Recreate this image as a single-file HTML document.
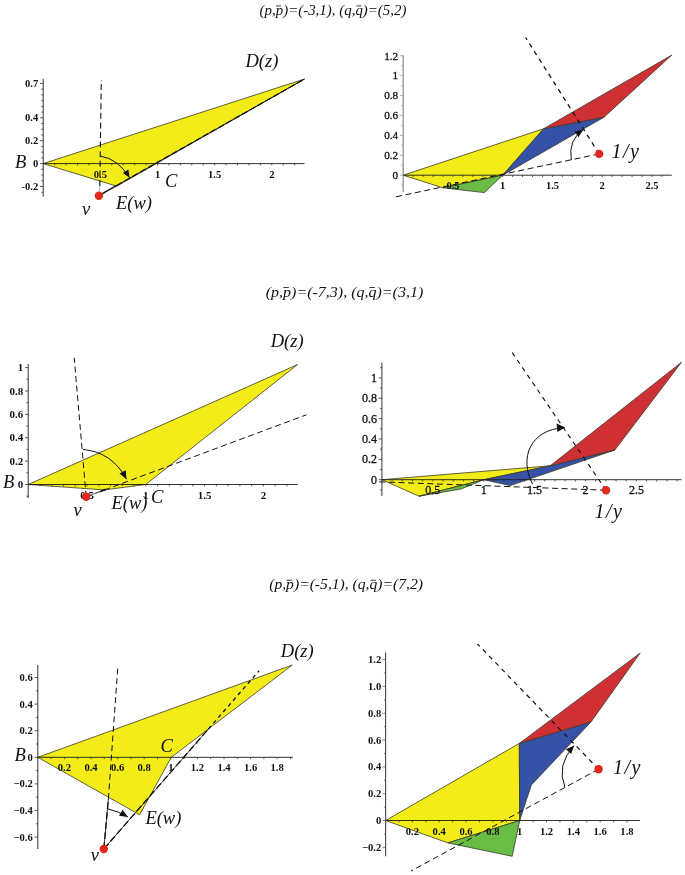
<!DOCTYPE html>
<html><head><meta charset="utf-8"><title>figure</title>
<style>html,body{margin:0;padding:0;background:#fff}svg{display:block}</style></head>
<body><svg width="685" height="875" viewBox="0 0 685 875">
<rect width="685" height="875" fill="#fff"/>
<g transform="translate(259.6,14.6) scale(1.0498,1)" font-family="'Liberation Serif',serif" font-style="italic" font-size="14.22" fill="#111">
<text x="0" y="0">(p,p)=(-3,1), (q,q)=(5,2)</text>
<path d="M15.68 -8.67h4.83M92.19 -8.67h4.83" stroke="#111" stroke-width="0.8" fill="none"/>
</g>
<g transform="translate(265.8,296.8) scale(1.0502,1)" font-family="'Liberation Serif',serif" font-style="italic" font-size="15.23" fill="#111">
<text x="0" y="0">(p,p)=(-7,3), (q,q)=(3,1)</text>
<path d="M16.80 -9.29h5.18M98.74 -9.29h5.18" stroke="#111" stroke-width="0.8" fill="none"/>
</g>
<g transform="translate(269.2,589.3) scale(1.0503,1)" font-family="'Liberation Serif',serif" font-style="italic" font-size="14.89" fill="#111">
<text x="0" y="0">(p,p)=(-5,1), (q,q)=(7,2)</text>
<path d="M16.42 -9.08h5.06M96.53 -9.08h5.06" stroke="#111" stroke-width="0.8" fill="none"/>
</g>
<polygon points="43.2,163.6 304.5,79.0 116.8,186.2" fill="#f3ec19" stroke="#3a3a2a" stroke-width="0.8" stroke-linejoin="round"/>
<line x1="43.2" y1="79" x2="43.2" y2="196.6" stroke="#1c1c1c" stroke-width="0.9"/>
<line x1="43.2" y1="163.6" x2="304.5" y2="163.6" stroke="#1c1c1c" stroke-width="0.9"/>
<path d="M41.40 192.22H43.20M40.00 186.50H43.20M41.40 180.78H43.20M41.40 175.05H43.20M41.40 169.32H43.20M40.00 163.60H43.20M41.40 157.88H43.20M41.40 152.15H43.20M41.40 146.42H43.20M40.00 140.70H43.20M41.40 134.97H43.20M41.40 129.25H43.20M41.40 123.53H43.20M40.00 117.80H43.20M41.40 112.07H43.20M41.40 106.35H43.20M41.40 100.62H43.20M41.40 94.90H43.20M41.40 89.17H43.20M40.00 83.45H43.20" stroke="#2a2a2a" stroke-width="0.75" fill="none"/>
<path d="M54.63 163.60v1.8M66.06 163.60v1.8M77.49 163.60v1.8M88.92 163.60v1.8M100.35 163.60v1.8M111.78 163.60v1.8M123.21 163.60v1.8M134.64 163.60v1.8M146.07 163.60v1.8M157.50 163.60v1.8M168.93 163.60v1.8M180.36 163.60v1.8M191.79 163.60v1.8M203.22 163.60v1.8M214.65 163.60v1.8M226.08 163.60v1.8M237.51 163.60v1.8M248.94 163.60v1.8M260.37 163.60v1.8M271.80 163.60v1.8M283.23 163.60v1.8M294.66 163.60v1.8" stroke="#2a2a2a" stroke-width="0.75" fill="none"/>
<g font-family="'Liberation Serif',serif" font-size="10.5" font-weight="bold" fill="#111">
<text x="38.20" y="86.92" text-anchor="end">0.7</text>
<text x="38.20" y="121.26" text-anchor="end">0.4</text>
<text x="38.20" y="144.16" text-anchor="end">0.2</text>
<text x="38.20" y="167.06" text-anchor="end">0</text>
<text x="38.20" y="189.97" text-anchor="end">-0.2</text>
</g>
<g font-family="'Liberation Serif',serif" font-size="10.5" font-weight="bold" fill="#111">
<text x="100.35" y="177.60" text-anchor="middle">0.5</text>
<text x="157.50" y="177.60" text-anchor="middle">1</text>
<text x="214.65" y="177.60" text-anchor="middle">1.5</text>
<text x="271.80" y="177.60" text-anchor="middle">2</text>
</g>
<line x1="98.9" y1="195.6" x2="116.8" y2="185.4" stroke="#111" stroke-width="1.6"/>
<line x1="116.8" y1="185.4" x2="304.5" y2="79" stroke="#111" stroke-width="0.9"/>
<line x1="116.8" y1="185.4" x2="304.5" y2="79" stroke="#111" stroke-width="1.2" stroke-dasharray="6 3"/>
<line x1="99.4" y1="195" x2="99.8" y2="186" stroke="#bbb" stroke-width="1"/>
<line x1="99.8" y1="186" x2="101.3" y2="80" stroke="#111" stroke-width="1.1" stroke-dasharray="6 3.6"/>
<path d="M100.7 156.1Q118 159 129.6 177.7" stroke="#111" stroke-width="1" fill="none"/>
<polygon points="129.6,177.7 122.9,173.0 128.4,169.6" fill="#111"/>
<circle cx="98.9" cy="195.8" r="4.2" fill="#e0281e"/>
<text x="15" y="168.4" font-family="'Liberation Serif',serif" font-style="italic" font-size="18.5" letter-spacing="0" fill="#111">B</text>
<text x="245.5" y="66.5" font-family="'Liberation Serif',serif" font-style="italic" font-size="18.5" letter-spacing="0" fill="#111">D(z)</text>
<text x="165" y="187" font-family="'Liberation Serif',serif" font-style="italic" font-size="18.5" letter-spacing="0" fill="#111">C</text>
<text x="116" y="209" font-family="'Liberation Serif',serif" font-style="italic" font-size="18.5" letter-spacing="0" fill="#111">E(w)</text>
<text x="82" y="215" font-family="'Liberation Serif',serif" font-style="italic" font-size="18.5" letter-spacing="0" fill="#111">v</text>
<polygon points="403.2,175.2 543.7,128.7 502.7,175.2 442.9,187.8" fill="#f3ec19" stroke="#3a3a2a" stroke-width="0.8" stroke-linejoin="round"/>
<polygon points="442.9,187.8 502.7,175.2 484.3,192.6" fill="#69bd45" stroke="#3a3a2a" stroke-width="0.8" stroke-linejoin="round"/>
<polygon points="502.7,175.2 543.7,128.7 604.0,117.2" fill="#3552a6" stroke="#3a3a2a" stroke-width="0.8" stroke-linejoin="round"/>
<polygon points="543.7,128.7 671.8,55.1 604.0,117.2" fill="#cf3034" stroke="#3a3a2a" stroke-width="0.8" stroke-linejoin="round"/>
<line x1="403.2" y1="55.2" x2="403.2" y2="192" stroke="#999" stroke-width="1.4"/>
<line x1="403.2" y1="175.2" x2="671.8" y2="175.2" stroke="#1c1c1c" stroke-width="0.9"/>
<path d="M401.40 185.15H403.20M400.00 175.20H403.20M401.40 165.25H403.20M400.00 155.30H403.20M401.40 145.35H403.20M400.00 135.40H403.20M401.40 125.45H403.20M400.00 115.50H403.20M401.40 105.55H403.20M400.00 95.60H403.20M401.40 85.65H403.20M400.00 75.70H403.20M401.40 65.75H403.20M400.00 55.80H403.20" stroke="#999" stroke-width="0.75" fill="none"/>
<path d="M413.15 175.20v1.8M423.10 175.20v1.8M433.05 175.20v1.8M443.00 175.20v1.8M452.95 175.20v1.8M462.90 175.20v1.8M472.85 175.20v1.8M482.80 175.20v1.8M492.75 175.20v1.8M502.70 175.20v1.8M512.65 175.20v1.8M522.60 175.20v1.8M532.55 175.20v1.8M542.50 175.20v1.8M552.45 175.20v1.8M562.40 175.20v1.8M572.35 175.20v1.8M582.30 175.20v1.8M592.25 175.20v1.8M602.20 175.20v1.8M612.15 175.20v1.8M622.10 175.20v1.8M632.05 175.20v1.8M642.00 175.20v1.8M651.95 175.20v1.8M661.90 175.20v1.8" stroke="#2a2a2a" stroke-width="0.75" fill="none"/>
<g font-family="'Liberation Serif',serif" font-size="11.2" font-weight="normal" fill="#111" stroke="#111" stroke-width="0.3">
<text x="398.20" y="59.50" text-anchor="end">1.2</text>
<text x="398.20" y="79.40" text-anchor="end">1</text>
<text x="398.20" y="99.30" text-anchor="end">0.8</text>
<text x="398.20" y="119.20" text-anchor="end">0.6</text>
<text x="398.20" y="139.10" text-anchor="end">0.4</text>
<text x="398.20" y="159.00" text-anchor="end">0.2</text>
<text x="398.20" y="178.90" text-anchor="end">0</text>
</g>
<g font-family="'Liberation Serif',serif" font-size="10.5" font-weight="bold" fill="#111">
<text x="452.95" y="189.20" text-anchor="middle">0.5</text>
<text x="502.70" y="189.20" text-anchor="middle">1</text>
<text x="552.45" y="189.20" text-anchor="middle">1.5</text>
<text x="602.20" y="189.20" text-anchor="middle">2</text>
<text x="651.95" y="189.20" text-anchor="middle">2.5</text>
</g>
<line x1="599.2" y1="153.9" x2="395" y2="197" stroke="#111" stroke-width="1.0" stroke-dasharray="6 3.6"/>
<line x1="599.2" y1="153.9" x2="525.6" y2="37.5" stroke="#111" stroke-width="1.3" stroke-dasharray="4.6 4.4"/>
<path d="M571.3 160Q568 140 583.2 129.8" stroke="#111" stroke-width="1" fill="none"/>
<polygon points="583.2,129.8 578.5,137.2 574.6,131.4" fill="#111"/>
<circle cx="599.2" cy="153.9" r="4.2" fill="#e0281e"/>
<text x="611.5" y="158" font-family="'Liberation Serif',serif" font-style="italic" font-size="20" letter-spacing="1.5" fill="#111">1/y</text>
<polygon points="28.2,484.5 297.6,364.5 145.7,484.5 104.2,489.9" fill="#f3ec19" stroke="#3a3a2a" stroke-width="0.8" stroke-linejoin="round"/>
<line x1="28.2" y1="364" x2="28.2" y2="498" stroke="#1c1c1c" stroke-width="0.9"/>
<line x1="28.2" y1="484.5" x2="297.6" y2="484.5" stroke="#1c1c1c" stroke-width="0.9"/>
<path d="M26.40 496.19H28.20M25.00 484.50H28.20M26.40 472.81H28.20M25.00 461.12H28.20M26.40 449.43H28.20M25.00 437.74H28.20M26.40 426.05H28.20M25.00 414.36H28.20M26.40 402.67H28.20M25.00 390.98H28.20M26.40 379.29H28.20M25.00 367.60H28.20" stroke="#2a2a2a" stroke-width="0.75" fill="none"/>
<path d="M39.96 484.50v1.8M51.72 484.50v1.8M63.48 484.50v1.8M75.24 484.50v1.8M87.00 484.50v1.8M98.76 484.50v1.8M110.52 484.50v1.8M122.28 484.50v1.8M134.04 484.50v1.8M145.80 484.50v1.8M157.56 484.50v1.8M169.32 484.50v1.8M181.08 484.50v1.8M192.84 484.50v1.8M204.60 484.50v1.8M216.36 484.50v1.8M228.12 484.50v1.8M239.88 484.50v1.8M251.64 484.50v1.8M263.40 484.50v1.8M275.16 484.50v1.8M286.92 484.50v1.8" stroke="#2a2a2a" stroke-width="0.75" fill="none"/>
<g font-family="'Liberation Serif',serif" font-size="11" font-weight="bold" fill="#111">
<text x="23.20" y="371.23" text-anchor="end">1</text>
<text x="23.20" y="394.61" text-anchor="end">0.8</text>
<text x="23.20" y="417.99" text-anchor="end">0.6</text>
<text x="23.20" y="441.37" text-anchor="end">0.4</text>
<text x="23.20" y="464.75" text-anchor="end">0.2</text>
<text x="23.20" y="488.13" text-anchor="end">0</text>
</g>
<g font-family="'Liberation Serif',serif" font-size="11" font-weight="bold" fill="#111">
<text x="87.00" y="498.50" text-anchor="middle">0.5</text>
<text x="145.80" y="498.50" text-anchor="middle">1</text>
<text x="204.60" y="498.50" text-anchor="middle">1.5</text>
<text x="263.40" y="498.50" text-anchor="middle">2</text>
</g>
<line x1="86.2" y1="496.8" x2="74.2" y2="357.7" stroke="#111" stroke-width="1.0" stroke-dasharray="6 3.6"/>
<line x1="86.2" y1="496.8" x2="306.4" y2="414.8" stroke="#111" stroke-width="1.0" stroke-dasharray="6 3.6"/>
<line x1="91" y1="495" x2="100.5" y2="491.4" stroke="#777" stroke-width="1"/>
<line x1="100.5" y1="491.4" x2="106" y2="489.3" stroke="#111" stroke-width="1.8"/>
<path d="M83 449.5Q112 452 126.5 479.2" stroke="#111" stroke-width="1" fill="none"/>
<polygon points="126.5,479.2 119.5,473.5 125.7,470.2" fill="#111"/>
<circle cx="86.2" cy="496.8" r="4.2" fill="#e0281e"/>
<text x="3" y="488" font-family="'Liberation Serif',serif" font-style="italic" font-size="18.5" letter-spacing="0" fill="#111">B</text>
<text x="270.7" y="347" font-family="'Liberation Serif',serif" font-style="italic" font-size="18.5" letter-spacing="0" fill="#111">D(z)</text>
<text x="151" y="503" font-family="'Liberation Serif',serif" font-style="italic" font-size="18.5" letter-spacing="0" fill="#111">C</text>
<text x="111.5" y="509" font-family="'Liberation Serif',serif" font-style="italic" font-size="18.5" letter-spacing="0" fill="#111">E(w)</text>
<text x="73.5" y="515.5" font-family="'Liberation Serif',serif" font-style="italic" font-size="18.5" letter-spacing="0" fill="#111">v</text>
<polygon points="381.9,479.7 550.2,465.8 483.7,479.7 419.0,496.2" fill="#f3ec19" stroke="#3a3a2a" stroke-width="0.8" stroke-linejoin="round"/>
<polygon points="419.0,496.2 483.7,479.7 461.0,489.0" fill="#69bd45" stroke="#3a3a2a" stroke-width="0.8" stroke-linejoin="round"/>
<polygon points="483.7,479.7 550.2,465.8 614.8,450.0 510.2,485.6" fill="#3552a6" stroke="#3a3a2a" stroke-width="0.8" stroke-linejoin="round"/>
<polygon points="550.2,465.8 681.5,362.2 614.8,450.0" fill="#cf3034" stroke="#3a3a2a" stroke-width="0.8" stroke-linejoin="round"/>
<line x1="381.9" y1="362.7" x2="381.9" y2="496" stroke="#1c1c1c" stroke-width="0.9"/>
<line x1="381.9" y1="479.7" x2="681.5" y2="479.7" stroke="#1c1c1c" stroke-width="0.9"/>
<path d="M380.10 489.88H381.90M378.70 479.70H381.90M380.10 469.52H381.90M378.70 459.34H381.90M380.10 449.16H381.90M378.70 438.98H381.90M380.10 428.80H381.90M378.70 418.62H381.90M380.10 408.44H381.90M378.70 398.26H381.90M380.10 388.08H381.90M378.70 377.90H381.90M380.10 367.72H381.90" stroke="#2a2a2a" stroke-width="0.75" fill="none"/>
<path d="M392.08 479.70v1.8M402.26 479.70v1.8M412.44 479.70v1.8M422.62 479.70v1.8M432.80 479.70v1.8M442.98 479.70v1.8M453.16 479.70v1.8M463.34 479.70v1.8M473.52 479.70v1.8M483.70 479.70v1.8M493.88 479.70v1.8M504.06 479.70v1.8M514.24 479.70v1.8M524.42 479.70v1.8M534.60 479.70v1.8M544.78 479.70v1.8M554.96 479.70v1.8M565.14 479.70v1.8M575.32 479.70v1.8M585.50 479.70v1.8M595.68 479.70v1.8M605.86 479.70v1.8M616.04 479.70v1.8M626.22 479.70v1.8M636.40 479.70v1.8M646.58 479.70v1.8M656.76 479.70v1.8M666.94 479.70v1.8M677.12 479.70v1.8" stroke="#2a2a2a" stroke-width="0.75" fill="none"/>
<g font-family="'Liberation Serif',serif" font-size="12" font-weight="normal" fill="#111" stroke="#111" stroke-width="0.3">
<text x="376.90" y="381.86" text-anchor="end">1</text>
<text x="376.90" y="402.22" text-anchor="end">0.8</text>
<text x="376.90" y="422.58" text-anchor="end">0.6</text>
<text x="376.90" y="442.94" text-anchor="end">0.4</text>
<text x="376.90" y="463.30" text-anchor="end">0.2</text>
<text x="376.90" y="483.66" text-anchor="end">0</text>
</g>
<g font-family="'Liberation Serif',serif" font-size="12" font-weight="normal" fill="#111" stroke="#111" stroke-width="0.3">
<text x="432.80" y="493.70" text-anchor="middle">0.5</text>
<text x="483.70" y="493.70" text-anchor="middle">1</text>
<text x="534.60" y="493.70" text-anchor="middle">1.5</text>
<text x="585.50" y="493.70" text-anchor="middle">2</text>
<text x="636.40" y="493.70" text-anchor="middle">2.5</text>
</g>
<line x1="606" y1="490.2" x2="378.5" y2="481.8" stroke="#111" stroke-width="1.0" stroke-dasharray="6 3.6"/>
<line x1="606" y1="490.2" x2="511.8" y2="352" stroke="#111" stroke-width="1.15" stroke-dasharray="4.6 4.4"/>
<path d="M532.6 484.2C519 458 530 430 563.7 427.6" stroke="#111" stroke-width="1" fill="none"/>
<polygon points="565.2,427.4 556.6,423.4 557.4,432" fill="#111"/>
<circle cx="606" cy="490.2" r="4.2" fill="#e0281e"/>
<text x="594.5" y="518" font-family="'Liberation Serif',serif" font-style="italic" font-size="20" letter-spacing="1.5" fill="#111">1/y</text>
<polygon points="37.8,757.3 292.3,665.0 171.3,757.3 139.6,814.8" fill="#f3ec19" stroke="#3a3a2a" stroke-width="0.8" stroke-linejoin="round"/>
<line x1="37.8" y1="665" x2="37.8" y2="849" stroke="#1c1c1c" stroke-width="0.9"/>
<line x1="37.8" y1="757.3" x2="292.9" y2="757.3" stroke="#1c1c1c" stroke-width="0.9"/>
<path d="M34.60 837.10H37.80M36.00 823.80H37.80M34.60 810.50H37.80M36.00 797.20H37.80M34.60 783.90H37.80M36.00 770.60H37.80M34.60 757.30H37.80M36.00 744.00H37.80M34.60 730.70H37.80M36.00 717.40H37.80M34.60 704.10H37.80M36.00 690.80H37.80M34.60 677.50H37.80" stroke="#2a2a2a" stroke-width="0.75" fill="none"/>
<path d="M51.10 757.30v1.8M64.40 757.30v1.8M77.70 757.30v1.8M91.00 757.30v1.8M104.30 757.30v1.8M117.60 757.30v1.8M130.90 757.30v1.8M144.20 757.30v1.8M157.50 757.30v1.8M170.80 757.30v1.8M184.10 757.30v1.8M197.40 757.30v1.8M210.70 757.30v1.8M224.00 757.30v1.8M237.30 757.30v1.8M250.60 757.30v1.8M263.90 757.30v1.8M277.20 757.30v1.8M290.50 757.30v1.8" stroke="#2a2a2a" stroke-width="0.75" fill="none"/>
<g font-family="'Liberation Serif',serif" font-size="10.6" font-weight="bold" fill="#111">
<text x="32.80" y="681.00" text-anchor="end">0.6</text>
<text x="32.80" y="707.60" text-anchor="end">0.4</text>
<text x="32.80" y="734.20" text-anchor="end">0.2</text>
<text x="32.80" y="760.80" text-anchor="end">0</text>
<text x="32.80" y="787.40" text-anchor="end">&#8722;0.2</text>
<text x="32.80" y="814.00" text-anchor="end">&#8722;0.4</text>
<text x="32.80" y="840.60" text-anchor="end">&#8722;0.6</text>
</g>
<g font-family="'Liberation Serif',serif" font-size="10.6" font-weight="bold" fill="#111">
<text x="64.40" y="770.80" text-anchor="middle">0.2</text>
<text x="91.00" y="770.80" text-anchor="middle">0.4</text>
<text x="117.60" y="770.80" text-anchor="middle">0.6</text>
<text x="144.20" y="770.80" text-anchor="middle">0.8</text>
<text x="170.80" y="770.80" text-anchor="middle">1</text>
<text x="197.40" y="770.80" text-anchor="middle">1.2</text>
<text x="224.00" y="770.80" text-anchor="middle">1.4</text>
<text x="250.60" y="770.80" text-anchor="middle">1.6</text>
<text x="277.20" y="770.80" text-anchor="middle">1.8</text>
</g>
<line x1="103.8" y1="849" x2="108.4" y2="799" stroke="#111" stroke-width="0.8"/>
<line x1="103.8" y1="849" x2="108.4" y2="799" stroke="#111" stroke-width="1.35" stroke-dasharray="7 3"/>
<line x1="108.4" y1="799" x2="117.9" y2="665.9" stroke="#111" stroke-width="1.0" stroke-dasharray="6 3.6"/>
<line x1="103.8" y1="849" x2="208.4" y2="729" stroke="#111" stroke-width="0.8"/>
<line x1="103.8" y1="849" x2="208.4" y2="729" stroke="#111" stroke-width="1.35" stroke-dasharray="7 3"/>
<line x1="208.4" y1="729" x2="259.2" y2="670.6" stroke="#111" stroke-width="1.3" stroke-dasharray="4 3.5"/>
<path d="M107.6 808.8Q118 811 127.9 817" stroke="#111" stroke-width="1" fill="none"/>
<polygon points="127.9,817.0 119.0,815.7 122.6,809.7" fill="#111"/>
<circle cx="103.8" cy="849" r="4.2" fill="#e0281e"/>
<text x="14.5" y="760.6" font-family="'Liberation Serif',serif" font-style="italic" font-size="18.5" letter-spacing="0" fill="#111">B</text>
<text x="280.8" y="656.8" font-family="'Liberation Serif',serif" font-style="italic" font-size="18.5" letter-spacing="0" fill="#111">D(z)</text>
<text x="160.6" y="752.2" font-family="'Liberation Serif',serif" font-style="italic" font-size="18.5" letter-spacing="0" fill="#111">C</text>
<text x="145.4" y="823.5" font-family="'Liberation Serif',serif" font-style="italic" font-size="18.5" letter-spacing="0" fill="#111">E(w)</text>
<text x="90.8" y="861" font-family="'Liberation Serif',serif" font-style="italic" font-size="18.5" letter-spacing="0" fill="#111">v</text>
<polygon points="385.6,820.5 519.3,743.4 519.7,820.5 448.0,842.9" fill="#f3ec19" stroke="#3a3a2a" stroke-width="0.8" stroke-linejoin="round"/>
<polygon points="448.0,842.9 519.7,820.5 512.2,856.3" fill="#69bd45" stroke="#3a3a2a" stroke-width="0.8" stroke-linejoin="round"/>
<polygon points="519.3,743.4 591.0,721.9 531.4,784.9 519.7,820.5" fill="#3552a6" stroke="#3a3a2a" stroke-width="0.8" stroke-linejoin="round"/>
<polygon points="519.3,743.4 640.2,653.0 591.0,721.9" fill="#cf3034" stroke="#3a3a2a" stroke-width="0.8" stroke-linejoin="round"/>
<line x1="385.6" y1="652.4" x2="385.6" y2="856.3" stroke="#555" stroke-width="1.2"/>
<line x1="385.6" y1="820.5" x2="640" y2="820.5" stroke="#1c1c1c" stroke-width="0.9"/>
<path d="M382.40 847.32H385.60M383.80 833.91H385.60M382.40 820.50H385.60M383.80 807.09H385.60M382.40 793.68H385.60M383.80 780.27H385.60M382.40 766.86H385.60M383.80 753.45H385.60M382.40 740.04H385.60M383.80 726.63H385.60M382.40 713.22H385.60M383.80 699.81H385.60M382.40 686.40H385.60M383.80 672.99H385.60M382.40 659.58H385.60" stroke="#555" stroke-width="0.75" fill="none"/>
<path d="M399.01 820.50v1.8M412.42 820.50v1.8M425.83 820.50v1.8M439.24 820.50v1.8M452.65 820.50v1.8M466.06 820.50v1.8M479.47 820.50v1.8M492.88 820.50v1.8M506.29 820.50v1.8M519.70 820.50v1.8M533.11 820.50v1.8M546.52 820.50v1.8M559.93 820.50v1.8M573.34 820.50v1.8M586.75 820.50v1.8M600.16 820.50v1.8M613.57 820.50v1.8M626.98 820.50v1.8" stroke="#2a2a2a" stroke-width="0.75" fill="none"/>
<g font-family="'Liberation Serif',serif" font-size="10.6" font-weight="bold" fill="#111">
<text x="381.20" y="663.08" text-anchor="end">1.2</text>
<text x="381.20" y="689.90" text-anchor="end">1.0</text>
<text x="381.20" y="716.72" text-anchor="end">0.8</text>
<text x="381.20" y="743.54" text-anchor="end">0.6</text>
<text x="381.20" y="770.36" text-anchor="end">0.4</text>
<text x="381.20" y="797.18" text-anchor="end">0.2</text>
<text x="381.20" y="824.00" text-anchor="end">0</text>
<text x="381.20" y="850.82" text-anchor="end">&#8722;0.2</text>
</g>
<g font-family="'Liberation Serif',serif" font-size="10.6" font-weight="bold" fill="#111">
<text x="412.42" y="834.50" text-anchor="middle">0.2</text>
<text x="439.24" y="834.50" text-anchor="middle">0.4</text>
<text x="466.06" y="834.50" text-anchor="middle">0.6</text>
<text x="492.88" y="834.50" text-anchor="middle">0.8</text>
<text x="519.70" y="834.50" text-anchor="middle">1</text>
<text x="546.52" y="834.50" text-anchor="middle">1.2</text>
<text x="573.34" y="834.50" text-anchor="middle">1.4</text>
<text x="600.16" y="834.50" text-anchor="middle">1.6</text>
<text x="626.98" y="834.50" text-anchor="middle">1.8</text>
</g>
<line x1="598.6" y1="769.2" x2="411" y2="871" stroke="#111" stroke-width="1.0" stroke-dasharray="6 3.6"/>
<line x1="598.6" y1="769.2" x2="477.5" y2="644" stroke="#111" stroke-width="1.2" stroke-dasharray="4.6 4.4"/>
<path d="M565 787.4Q556 765 574.2 745.6" stroke="#111" stroke-width="1" fill="none"/>
<polygon points="574.2,745.6 571.1,754.0 566.0,749.3" fill="#111"/>
<circle cx="598.6" cy="769.2" r="4.2" fill="#e0281e"/>
<text x="613" y="774" font-family="'Liberation Serif',serif" font-style="italic" font-size="20" letter-spacing="1.5" fill="#111">1/y</text>
</svg></body></html>
